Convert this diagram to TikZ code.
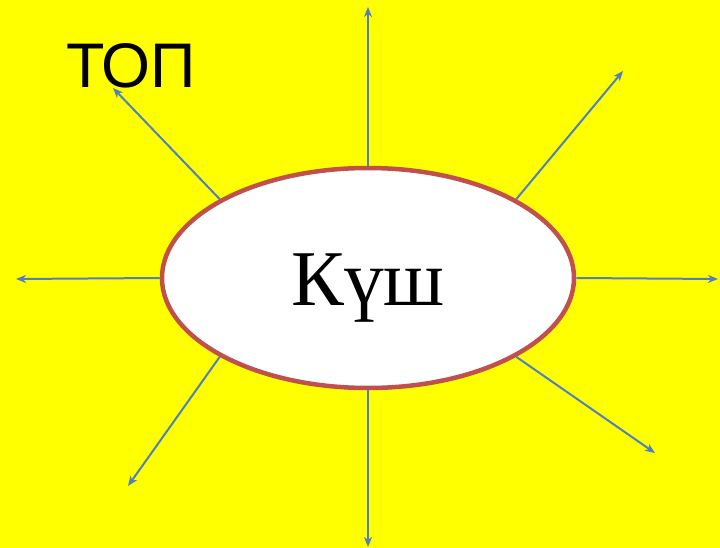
\documentclass[tikz,border=0pt]{standalone}
\usepackage{fontspec}
\setmainfont{Liberation Serif}
\newfontfamily\topfont{Liberation Sans}
\usetikzlibrary{shapes.geometric,arrows.meta}
\definecolor{sunyellow}{HTML}{FFFF00}
\definecolor{rimred}{HTML}{C0504D}
\definecolor{rayblue}{HTML}{4F81BD}
\tikzset{
    ray/.style={rayblue, line width=2pt, -{Stealth[length=10pt,width=8pt,inset=3pt]}},
    sun/.style={ellipse, draw=rimred, fill=white, line width=4.5pt,
        minimum width=412pt, minimum height=220pt, inner sep=0pt}
}
\begin{document}
\begin{tikzpicture}[x=1pt,y=-1pt]
        % background
            \fill[sunyellow] (0,0) rectangle (720,548);
            \useasboundingbox (0,0) rectangle (720,548);
        % ellipse and word
            \node[sun] (ell) at (368,278) {};
            \node[anchor=base, inner sep=0pt] (kush) at (368,305)
                {\fontsize{79}{85}\selectfont Күш};
            \node[anchor=base west, inner sep=0pt] (top) at (66,88)
                {\topfont\fontsize{63}{70}\selectfont ТОП};
        % ray tips
            \foreach \n/\x/\y in {n/368/7,s/368/547,w/16/279,e/718/279,
                nw/113/88,ne/623/71,sw/128/486,se/655/453}{
                \coordinate (tip\n) at (\x,\y);
            }
        % rays
            \foreach \a/\n in {north/n,south/s,west/w,east/e,
                152/nw,28/ne,208/sw,332/se}{
                \draw[ray] (ell.\a) -- (tip\n);
            }
        \end{tikzpicture}
\end{document}
